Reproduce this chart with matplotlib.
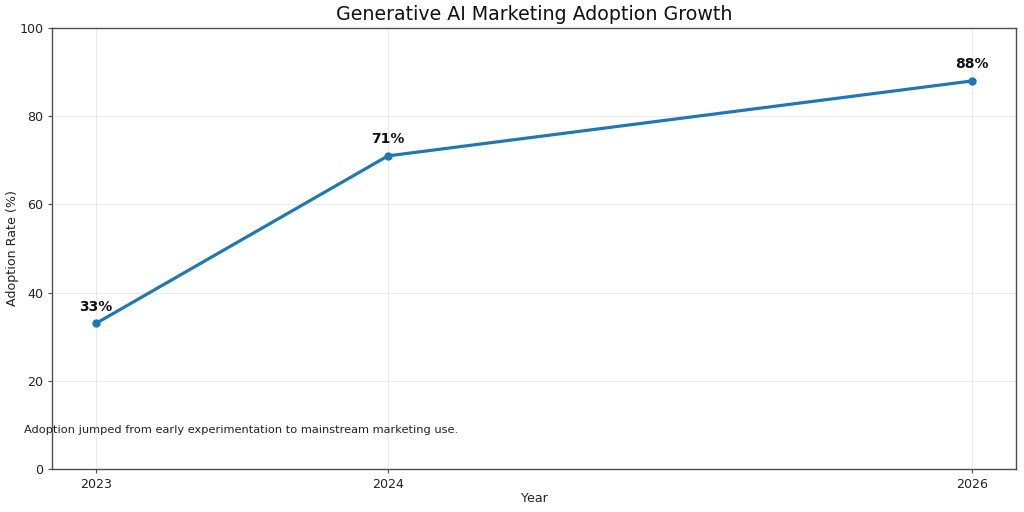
import matplotlib
matplotlib.use("Agg")
import matplotlib.pyplot as plt

years = [2023, 2024, 2026]
adoption = [33, 71, 88]
labels = ["33%", "71%", "88%"]

s = 0.91
plt.rcParams.update({
    "xtick.labelsize": 10 * s, "ytick.labelsize": 10 * s,
    "xtick.major.size": 3.5 * s, "ytick.major.size": 3.5 * s,
    "xtick.major.pad": 3.5 * s, "ytick.major.pad": 3.5 * s,
    "axes.linewidth": 1.0, "axes.edgecolor": "#4d4d4d",
    "xtick.color": "#4d4d4d", "ytick.color": "#4d4d4d",
    "xtick.labelcolor": "#222222", "ytick.labelcolor": "#222222",
    "axes.titlepad": 6 * s,
    "text.color": "#111111", "axes.labelcolor": "#222222",
})

fig = plt.figure(figsize=(10.24, 5.12), dpi=100)
ax = fig.add_axes([52/1024, 1-469/512, (1016-52)/1024, (469-28)/512])
ax.plot(years, adoption, color="#1f77b4", linewidth=2.5 * s, marker="o", markersize=5.5 * s)
for x, y, t in zip(years, adoption, labels):
    ax.annotate(t, (x, y), textcoords="offset points", xytext=(0, 10 * s),
                ha="center", fontsize=11 * s, fontweight="bold", color="#111111")
ax.set_xticks(years)
ax.set_xticklabels([str(y) for y in years])
ax.set_ylim(0, 100)
ax.grid(True, alpha=0.25, linewidth=0.8 * s)
ax.set_title("Generative AI Marketing Adoption Growth", fontsize=15 * s)
ax.set_xlabel("Year", fontsize=10 * s, labelpad=0.5)
ax.set_ylabel("Adoption Rate (%)", fontsize=10 * s, labelpad=0)
fig.text(24/1024, 1-430/512, "Adoption jumped from early experimentation to mainstream marketing use.",
         fontsize=9 * s, va="center", ha="left", color="#222222")
fig.savefig("out.png", dpi=100)
